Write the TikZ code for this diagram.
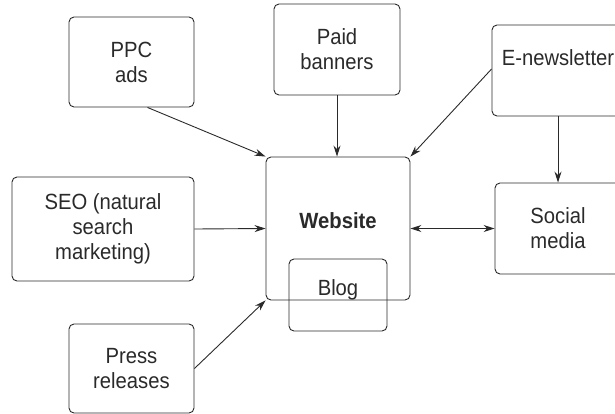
\documentclass[tikz,border=0pt]{standalone}
\usepackage{fontspec}
\setmainfont[FakeStretch=0.92]{Liberation Sans}
\usetikzlibrary{arrows.meta,calc}
\definecolor{ink}{HTML}{2A2A2A}
\begin{document}
\begin{tikzpicture}[x=1pt,y=-1pt,
  box/.style={draw=ink,line width=0.9pt,rounded corners=5pt,inner sep=0pt,align=center,
    text=ink,font=\fontsize{22}{25}\selectfont},
  conn/.style={draw=ink,line width=0.9pt,-{Stealth[length=11pt,width=7pt]}},
  bconn/.style={draw=ink,line width=0.9pt,{Stealth[length=11pt,width=7pt]}-{Stealth[length=11pt,width=7pt]}}]
\useasboundingbox (0,0) rectangle (615,413);
\clip (0,0) rectangle (615,413);
\node[box,minimum width=125pt,minimum height=90pt] (ppc) at (131.5,62) {PPC\\ads};
\node[box,minimum width=126pt,minimum height=91pt] (paid) at (337,49.5) {Paid\\banners};
\node[box,minimum width=132pt,minimum height=91pt] (enews) at (558,70.5) {E-newsletter\\\mbox{}};
\node[box,minimum width=144pt,minimum height=143pt] (web) at (338,228.5) {};
\node[text=ink,font=\fontsize{22}{25}\selectfont\bfseries,inner sep=0pt] (wtext) at (338,221) {Website};
\node[box,minimum width=98pt,minimum height=72pt,text depth=14pt] (blog) at (338,295) {Blog};
\node[box,minimum width=182pt,minimum height=104pt] (seo) at (103,229) {SEO (natural\\search\\marketing)};
\node[box,minimum width=125pt,minimum height=89pt] (press) at (131.5,368.5) {Press\\releases};
\node[box,minimum width=126pt,minimum height=91pt] (social) at (558,228.5) {Social\\media};
\draw[conn] ([xshift=16pt]ppc.south) -- (web.north west);
\draw[conn] (paid.south) -- (paid.south |- web.north);
\draw[conn] ([yshift=1.5pt]enews.west) -- (web.north east);
\draw[conn] (enews.south) -- (social.north);
\draw[conn] (seo.east) -- (web.west);
\draw[conn] (press.east) -- (web.south west);
\draw[bconn] (web.east) -- (social.west);
\end{tikzpicture}
\end{document}
